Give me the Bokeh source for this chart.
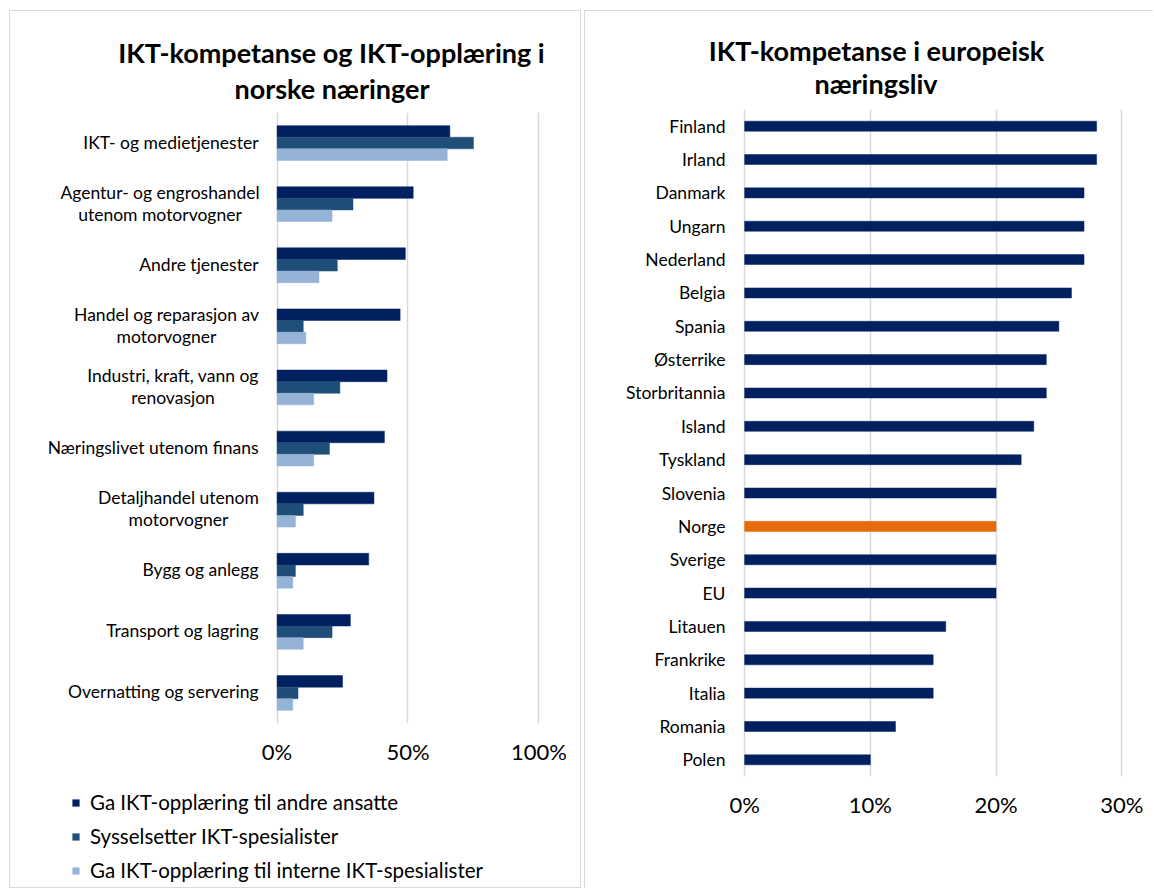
from bokeh.plotting import figure
from bokeh.models import (FactorRange, Range1d, FixedTicker, PrintfTickFormatter, Label,
                          Legend, LegendItem, ColumnDataSource)
from bokeh.core.properties import value
from bokeh.transform import dodge
from bokeh.embed import file_html
from bokeh.resources import INLINE

# ---------------- data ----------------
left_categories = [
    "IKT- og medietjenester",
    "Agentur- og engroshandel\nutenom motorvogner",
    "Andre tjenester",
    "Handel og reparasjon av\nmotorvogner",
    "Industri, kraft, vann og\nrenovasjon",
    "Næringslivet utenom finans",
    "Detaljhandel utenom\nmotorvogner",
    "Bygg og anlegg",
    "Transport og lagring",
    "Overnatting og servering",
]
training_other = [66, 52, 49, 47, 42, 41, 37, 35, 28, 25]
employs_specialists = [75, 29, 23, 10, 24, 20, 10, 7, 21, 8]
training_specialists = [65, 21, 16, 11, 14, 14, 7, 6, 10, 6]
series_names = [
    "Ga IKT-opplæring til andre ansatte",
    "Sysselsetter IKT-spesialister",
    "Ga IKT-opplæring til interne IKT-spesialister",
]
left_ticks = [0, 50, 100]
left_title = ["IKT-kompetanse og IKT-opplæring i", "norske næringer"]

countries = ["Finland", "Irland", "Danmark", "Ungarn", "Nederland", "Belgia", "Spania",
             "Østerrike", "Storbritannia", "Island", "Tyskland", "Slovenia", "Norge",
             "Sverige", "EU", "Litauen", "Frankrike", "Italia", "Romania", "Polen"]
country_values = [28, 28, 27, 27, 27, 26, 25, 24, 24, 23, 22, 20, 20, 20, 20, 16, 15, 15, 12, 10]
highlight_country = "Norge"
right_ticks = [0, 10, 20, 30]
right_title = ["IKT-kompetanse i europeisk", "næringsliv"]

# ---------------- style ----------------
FONT = "Lato"
NAVY = "#002060"
MID = "#1F4E79"
LIGHT = "#95B3D7"
ORANGE = "#E46C0A"
GRID = "#D9D9D9"
TXT = "#000000"
series_colors = [NAVY, MID, LIGHT]
CAT_SIZE = "17.5px"
# widest line (px) of each two-line category label, used to centre its lines like Excel does
two_line_block_width = {
    "Agentur- og engroshandel\nutenom motorvogner": 197,
    "Handel og reparasjon av\nmotorvogner": 184,
    "Industri, kraft, vann og\nrenovasjon": 171,
    "Detaljhandel utenom\nmotorvogner": 160,
}


def style_axes(p, tick_size, cat_size):
    for ax in (p.xaxis, p.yaxis):
        ax.axis_line_color = None
        ax.major_tick_line_color = None
        ax.minor_tick_line_color = None
        ax.major_tick_out = 0
        ax.major_tick_in = 0
        ax.minor_tick_out = 0
        ax.minor_tick_in = 0
        ax.major_label_text_font = FONT
        ax.major_label_text_color = TXT
    p.xaxis.major_label_text_font_size = tick_size
    p.yaxis.major_label_text_font_size = cat_size
    p.yaxis.major_label_standoff = 16
    p.xaxis.major_label_standoff = 14
    p.xaxis.formatter = PrintfTickFormatter(format="%d%%")
    p.ygrid.grid_line_color = None
    p.xgrid.grid_line_color = GRID
    p.xgrid.grid_line_width = 1.5


def overlay(left, top, width, height, x_range=None, y_range=None):
    """Transparent figure used to hold texts that sit outside the charts' frames."""
    o = figure(width=width, height=height,
               x_range=x_range if x_range is not None else Range1d(0, 1),
               y_range=y_range if y_range is not None else Range1d(0, 1),
               x_axis_type=None, y_axis_type=None,
               output_backend="svg", toolbar_location=None,
               min_border=0, outline_line_color=None,
               background_fill_alpha=0, border_fill_alpha=0,
               styles={"position": "absolute", "left": f"{left}px", "top": f"{top}px"})
    o.grid.visible = False
    return o


def title_overlay(lines, left, top, width, height, anchors):
    o = overlay(left, top, width, height)
    for txt, (ax, ay) in zip(lines, anchors):
        o.add_layout(Label(x=ax, y=ay, x_units="screen", y_units="screen", text=txt,
                           text_align="center", text_baseline="middle",
                           text_font=FONT, text_font_size="27px", text_font_style="bold",
                           text_color=TXT))
    return o


# ---------------- left chart ----------------
p1 = figure(width=572, height=878,
            y_range=FactorRange(factors=left_categories[::-1]),
            x_range=Range1d(-0.6, 101),
            output_backend="svg", toolbar_location=None,
            min_border_left=265, min_border_right=41,
            min_border_top=101, min_border_bottom=166,
            outline_line_color=None,
            styles={"position": "absolute", "left": "9px", "top": "10px",
                    "border": "1px solid #D9D9D9", "box-sizing": "border-box"})
p1.y_range.range_padding = 0
style_axes(p1, "22px", CAT_SIZE)
p1.yaxis.visible = False          # category texts are drawn centred by the overlay below
p1.xaxis.ticker = FixedTicker(ticks=left_ticks)
p1.xgrid.ticker = FixedTicker(ticks=left_ticks)

src1 = ColumnDataSource(dict(cat=left_categories, a=training_other,
                             b=employs_specialists, c=training_specialists))
bh = 0.19
for col, off, colr in zip(["a", "b", "c"], [bh, 0, -bh], series_colors):
    p1.hbar(y=dodge("cat", off, range=p1.y_range), right=col, left=0, height=bh,
            source=src1, fill_color=colr, line_color=colr, line_width=0.5)

# category labels: same factor range and same vertical extent as p1's frame (page y 111..722)
LAB_LEFT, LAB_RIGHT_EDGE = 20, 258
cat_ov = overlay(LAB_LEFT, 111, 250, 611, x_range=Range1d(0, 250),
                 y_range=FactorRange(factors=left_categories[::-1], range_padding=0))
single = [c for c in left_categories if "\n" not in c]
double = [c for c in left_categories if "\n" in c]
cat_ov.text(x=[LAB_RIGHT_EDGE - LAB_LEFT] * len(single), y=single, text=single,
            text_align="right", text_baseline="middle",
            text_font=value(FONT), text_font_size=CAT_SIZE, text_color=TXT)
cat_ov.text(x=[LAB_RIGHT_EDGE - LAB_LEFT - two_line_block_width[c] / 2 for c in double],
            y=double, text=double,
            text_align="center", text_baseline="middle", text_line_height=1.05,
            text_font=value(FONT), text_font_size=CAT_SIZE, text_color=TXT)

t1 = title_overlay(left_title, 20, 25, 550, 85, [(311, 58), (311.5, 22)])

# ---------------- legend (own transparent figure under the left chart) ----------------
p3 = overlay(60, 775, 540, 110)
# swatch renderers reuse the series columns as zero-size bars (nothing drawn in the frame)
swatches = [p3.hbar(y=col, right=col, left=col, height=0, source=src1,
                    fill_color=c, line_color=None)
            for col, c in zip(["a", "b", "c"], series_colors)]
legend = Legend(items=[LegendItem(label=n, renderers=[r]) for n, r in zip(series_names, swatches)],
                location=(11, 3), orientation="vertical",
                padding=0, margin=0, spacing=10,
                glyph_width=9, glyph_height=9, label_standoff=10, label_height=23,
                label_text_font=FONT, label_text_font_size="20.5px", label_text_color=TXT,
                background_fill_alpha=0, border_line_color=None)
p3.add_layout(legend, "center")

# ---------------- right chart ----------------
p2 = figure(width=569, height=878,
            y_range=FactorRange(factors=countries[::-1]),
            x_range=Range1d(-0.25, 30.3),
            output_backend="svg", toolbar_location=None,
            min_border_left=156, min_border_right=29,
            min_border_top=98, min_border_bottom=113,
            outline_line_color=None,
            styles={"position": "absolute", "left": "584px", "top": "10px",
                    "border-top": "1px solid #D9D9D9", "border-left": "1px solid #D9D9D9",
                    "box-sizing": "border-box"})
p2.y_range.range_padding = 0
style_axes(p2, "22px", CAT_SIZE)
p2.xaxis.ticker = FixedTicker(ticks=right_ticks)
p2.xgrid.ticker = FixedTicker(ticks=right_ticks)

colors = [ORANGE if c == highlight_country else NAVY for c in countries]
src2 = ColumnDataSource(dict(country=countries, value=country_values, color=colors))
p2.hbar(y="country", right="value", left=0, height=0.3, source=src2,
        fill_color="color", line_color="color", line_width=0.5)

t2 = title_overlay(right_title, 600, 22, 540, 84, [(276, 56), (275.5, 23)])

open("out.html", "w").write(file_html([p1, p2, cat_ov, p3, t1, t2], INLINE))
